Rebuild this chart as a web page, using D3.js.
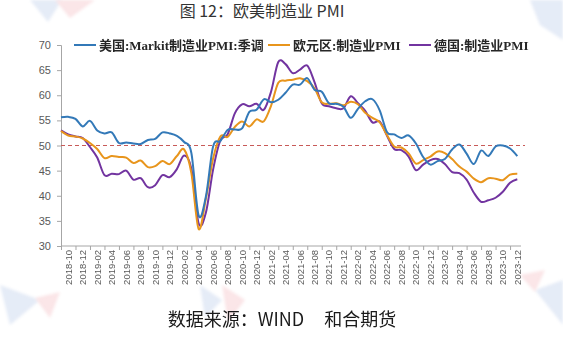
<!DOCTYPE html>
<html>
<head>
<meta charset="utf-8">
<script src="https://cdn.jsdelivr.net/npm/d3@7"></script>
<style>
  html, body { margin: 0; padding: 0; background: #fff; }
  svg { display: block; }
</style>
</head>
<body>
<svg id="chart" width="563" height="342"></svg>
<script>
// Monthly manufacturing PMI, 2018-09 .. 2023-12
const months = [
  "2018-09","2018-10","2018-11","2018-12",
  "2019-01","2019-02","2019-03","2019-04","2019-05","2019-06","2019-07","2019-08","2019-09","2019-10","2019-11","2019-12",
  "2020-01","2020-02","2020-03","2020-04","2020-05","2020-06","2020-07","2020-08","2020-09","2020-10","2020-11","2020-12",
  "2021-01","2021-02","2021-03","2021-04","2021-05","2021-06","2021-07","2021-08","2021-09","2021-10","2021-11","2021-12",
  "2022-01","2022-02","2022-03","2022-04","2022-05","2022-06","2022-07","2022-08","2022-09","2022-10","2022-11","2022-12",
  "2023-01","2023-02","2023-03","2023-04","2023-05","2023-06","2023-07","2023-08","2023-09","2023-10","2023-11","2023-12"
];

const usPMI = [55.6, 55.7, 55.3, 53.8,
  54.9, 53.0, 52.4, 52.6, 50.5, 50.6, 50.4, 50.3, 51.1, 51.3, 52.6, 52.4,
  51.9, 50.7, 48.5, 36.1, 39.8, 49.8, 50.9, 53.1, 53.2, 53.4, 56.7, 57.1,
  59.2, 58.6, 59.1, 60.5, 62.1, 62.1, 63.4, 61.1, 60.7, 58.4, 58.3, 57.7,
  55.5, 57.3, 58.8, 59.2, 57.0, 52.7, 52.2, 51.5, 52.0, 50.4, 47.7, 46.2,
  46.9, 47.3, 49.2, 50.2, 48.4, 46.3, 49.0, 47.9, 49.8, 50.0, 49.4, 47.9];

const euroPMI = [52.9, 52.0, 51.8, 51.4,
  50.5, 49.3, 47.5, 47.9, 47.7, 47.6, 46.5, 47.0, 45.7, 45.9, 46.9, 46.3,
  47.9, 49.2, 44.5, 33.4, 39.4, 47.4, 51.8, 51.7, 53.7, 54.8, 53.8, 55.2,
  54.8, 57.9, 62.5, 62.9, 63.1, 63.4, 62.8, 61.4, 58.6, 58.3, 58.4, 58.0,
  58.7, 58.2, 56.5, 55.5, 54.6, 52.1, 49.8, 49.6, 48.4, 46.4, 47.1, 47.8,
  48.8, 48.5, 47.3, 45.8, 44.8, 43.4, 42.7, 43.5, 43.4, 43.1, 44.2, 44.4];

const germanyPMI = [53.0, 52.2, 51.8, 51.5,
  49.7, 47.6, 44.1, 44.4, 44.3, 45.0, 43.2, 43.5, 41.7, 42.1, 44.1, 43.7,
  45.3, 48.0, 45.4, 34.5, 36.6, 45.2, 51.0, 52.2, 56.4, 58.2, 57.8, 58.3,
  57.1, 60.7, 66.6, 66.2, 64.4, 65.1, 65.9, 62.6, 58.4, 57.8, 57.4, 57.4,
  59.8, 58.4, 56.9, 54.6, 54.8, 52.0, 49.3, 49.1, 47.8, 45.1, 46.2, 47.1,
  47.3, 46.3, 44.7, 44.5, 43.2, 40.6, 38.8, 39.1, 39.6, 40.8, 42.6, 43.3];

const seriesNames = ["美国:Markit制造业PMI:季调", "欧元区:制造业PMI", "德国:制造业PMI"];
const seriesColors = ["#3379b8", "#e8951c", "#7234a0"];
const yTicks = [30, 35, 40, 45, 50, 55, 60, 65, 70];
const thresholdValue = 50;
const titleText = "图 12：欧美制造业 PMI";
const sourceText = "数据来源：WIND     和合期货";

const svg = d3.select("#chart");

// faint corner watermarks
const wm = svg.append("g").attr("opacity", 0.2);
const defs = svg.append("defs");
defs.append("filter").attr("id", "soft").append("feGaussianBlur").attr("stdDeviation", 1.5);
const marks = [
  { pts: [[30,0],[62,0],[48,22]], c: "#7f9fd6" },
  { pts: [[55,0],[95,0],[70,18]], c: "#e9808a" },
  { pts: [[0,285],[40,300],[10,325]], c: "#7f9fd6" },
  { pts: [[35,298],[60,292],[50,318]], c: "#e9808a" },
  { pts: [[200,285],[222,300],[205,318]], c: "#7f9fd6" },
  { pts: [[222,285],[245,300],[228,322]], c: "#e9808a" },
  { pts: [[530,0],[563,0],[563,40],[540,25]], c: "#7f9fd6" },
  { pts: [[535,290],[563,280],[563,325]], c: "#7f9fd6" },
  { pts: [[520,275],[545,270],[535,292]], c: "#e9808a" }
];
wm.selectAll("polygon").data(marks).join("polygon")
  .attr("points", d => d.pts.map(p => p.join(",")).join(" "))
  .attr("fill", d => d.c)
  .attr("filter", "url(#soft)");

// scales
const x = d3.scalePoint().domain(months).range([61, 517.3]);
const y = d3.scaleLinear().domain([30, 70]).range([246, 45]);

// title
svg.append("text")
  .attr("x", 262).attr("y", 16.5)
  .attr("text-anchor", "middle")
  .attr("font-family", "'Noto Sans CJK SC', 'Noto Sans', sans-serif")
  .attr("font-size", 16)
  .attr("fill", "#333")
  .text(titleText);

// y axis
const yAxis = svg.append("g").attr("transform", "translate(61,0)")
  .call(d3.axisLeft(y).tickValues(yTicks).tickSize(4).tickPadding(6));
yAxis.select(".domain").attr("stroke", "#a6a6a6");
yAxis.selectAll(".tick line").attr("stroke", "#a6a6a6");
yAxis.selectAll(".tick text")
  .attr("font-family", "'Liberation Sans', Arial, sans-serif")
  .attr("font-size", 11).attr("fill", "#595959");

// x axis: ticks on every other month, labels between them
const tickMonths = months.filter((m, i) => i % 2 === 0);
const labelMonths = months.filter((m, i) => i % 2 === 1);
const xAxis = svg.append("g").attr("transform", "translate(0,246)")
  .call(d3.axisBottom(x).tickValues(tickMonths).tickSize(4).tickFormat(""));
xAxis.select(".domain").attr("d", "M61,0H521").attr("stroke", "#a6a6a6");
xAxis.selectAll(".tick line").attr("stroke", "#a6a6a6");

svg.append("g").selectAll("text").data(labelMonths).join("text")
  .attr("transform", d => `translate(${x(d) + 3.5},250) rotate(-90)`)
  .attr("text-anchor", "end")
  .attr("font-family", "'Liberation Sans', Arial, sans-serif")
  .attr("font-size", 9.5)
  .attr("fill", "#595959")
  .text(d => d);

// 50 threshold
svg.append("line")
  .attr("x1", 61).attr("x2", 525)
  .attr("y1", y(thresholdValue)).attr("y2", y(thresholdValue))
  .attr("stroke", "#c85a58").attr("stroke-width", 1.1)
  .attr("stroke-dasharray", "4,3");

// series lines
const allSeries = [usPMI, euroPMI, germanyPMI];
const line = d3.line()
  .x((d, i) => x(months[i]))
  .y(d => y(d))
  .curve(d3.curveCardinal.tension(0));

const drawOrder = [2, 1, 0];
drawOrder.forEach(k => {
  svg.append("path")
    .datum(allSeries[k])
    .attr("d", line)
    .attr("fill", "none")
    .attr("stroke", seriesColors[k])
    .attr("stroke-width", 2)
    .attr("stroke-linejoin", "round");
});

// legend
const legendX = [74, 268, 409];
const legend = svg.append("g");
seriesNames.forEach((name, k) => {
  const g = legend.append("g").attr("transform", `translate(${legendX[k]},45)`);
  g.append("line").attr("x1", 0).attr("x2", 22).attr("y1", 0).attr("y2", 0)
    .attr("stroke", seriesColors[k]).attr("stroke-width", 2);
  g.append("text").attr("x", 25).attr("y", 4.6)
    .attr("font-family", "'Liberation Serif', 'Noto Sans CJK SC', serif")
    .attr("font-weight", "bold")
    .attr("font-size", 13)
    .attr("fill", "#262626")
    .text(name);
});

// source note
svg.append("text")
  .attr("x", 282).attr("y", 326)
  .attr("text-anchor", "middle")
  .attr("font-family", "'Noto Sans CJK SC', 'Noto Sans', sans-serif")
  .attr("font-size", 18)
  .attr("fill", "#1a1a1a")
  .style("white-space", "pre")
  .text(sourceText);
</script>
</body>
</html>
